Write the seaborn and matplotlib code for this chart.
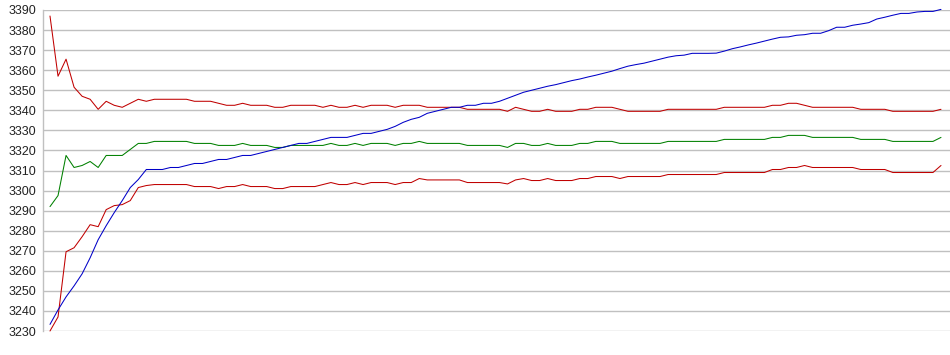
import numpy as np
import pandas as pd
import seaborn as sns
from matplotlib import pyplot as plt

# values, one per sample
upper = [3387, 3357, 3365.5, 3351.5, 3347, 3345.5, 3340.5, 3344.5, 3342.5, 3341.5,
         3343.5, 3345.5, 3344.5, 3345.5, 3345.5, 3345.5, 3345.5, 3345.5, 3344.5, 3344.5,
         3344.5, 3343.5, 3342.5, 3342.5, 3343.5, 3342.5, 3342.5, 3342.5, 3341.5, 3341.5,
         3342.5, 3342.5, 3342.5, 3342.5, 3341.5, 3342.5, 3341.5, 3341.5, 3342.5, 3341.5,
         3342.5, 3342.5, 3342.5, 3341.5, 3342.5, 3342.5, 3342.5, 3341.5, 3341.5, 3341.5,
         3341.5, 3341.5, 3340.5, 3340.5, 3340.5, 3340.5, 3340.5, 3339.5, 3341.5, 3340.5,
         3339.5, 3339.5, 3340.5, 3339.5, 3339.5, 3339.5, 3340.5, 3340.5, 3341.5, 3341.5,
         3341.5, 3340.5, 3339.5, 3339.5, 3339.5, 3339.5, 3339.5, 3340.5, 3340.5, 3340.5,
         3340.5, 3340.5, 3340.5, 3340.5, 3341.5, 3341.5, 3341.5, 3341.5, 3341.5, 3341.5,
         3342.5, 3342.5, 3343.5, 3343.5, 3342.5, 3341.5, 3341.5, 3341.5, 3341.5, 3341.5,
         3341.5, 3340.5, 3340.5, 3340.5, 3340.5, 3339.5, 3339.5, 3339.5, 3339.5, 3339.5,
         3339.5, 3340.5]

middle = [3292, 3297.5, 3317.5, 3311.5, 3312.5, 3314.5, 3311.5, 3317.5, 3317.5, 3317.5,
          3320.5, 3323.5, 3323.5, 3324.5, 3324.5, 3324.5, 3324.5, 3324.5, 3323.5, 3323.5,
          3323.5, 3322.5, 3322.5, 3322.5, 3323.5, 3322.5, 3322.5, 3322.5, 3321.5, 3321.5,
          3322.5, 3322.5, 3322.5, 3322.5, 3322.5, 3323.5, 3322.5, 3322.5, 3323.5, 3322.5,
          3323.5, 3323.5, 3323.5, 3322.5, 3323.5, 3323.5, 3324.5, 3323.5, 3323.5, 3323.5,
          3323.5, 3323.5, 3322.5, 3322.5, 3322.5, 3322.5, 3322.5, 3321.5, 3323.5, 3323.5,
          3322.5, 3322.5, 3323.5, 3322.5, 3322.5, 3322.5, 3323.5, 3323.5, 3324.5, 3324.5,
          3324.5, 3323.5, 3323.5, 3323.5, 3323.5, 3323.5, 3323.5, 3324.5, 3324.5, 3324.5,
          3324.5, 3324.5, 3324.5, 3324.5, 3325.5, 3325.5, 3325.5, 3325.5, 3325.5, 3325.5,
          3326.5, 3326.5, 3327.5, 3327.5, 3327.5, 3326.5, 3326.5, 3326.5, 3326.5, 3326.5,
          3326.5, 3325.5, 3325.5, 3325.5, 3325.5, 3324.5, 3324.5, 3324.5, 3324.5, 3324.5,
          3324.5, 3326.5]

lower = [3230, 3237, 3269.5, 3271.5, 3277, 3283, 3282, 3290.5, 3292.5, 3293,
         3295, 3301.5, 3302.5, 3303, 3303, 3303, 3303, 3303, 3302, 3302,
         3302, 3301, 3302, 3302, 3303, 3302, 3302, 3302, 3301, 3301,
         3302, 3302, 3302, 3302, 3303, 3304, 3303, 3303, 3304, 3303,
         3304, 3304, 3304, 3303, 3304, 3304, 3306, 3305.3, 3305.3, 3305.3,
         3305.3, 3305.3, 3304, 3304, 3304, 3304, 3304, 3303.3, 3305.3, 3306,
         3305, 3305, 3306, 3305, 3305, 3305, 3306, 3306, 3307, 3307,
         3307, 3306, 3307, 3307, 3307, 3307, 3307, 3308, 3308, 3308,
         3308, 3308, 3308, 3308, 3309, 3309, 3309, 3309, 3309, 3309,
         3310.5, 3310.5, 3311.5, 3311.5, 3312.5, 3311.5, 3311.5, 3311.5, 3311.5, 3311.5,
         3311.5, 3310.5, 3310.5, 3310.5, 3310.5, 3309, 3309, 3309, 3309, 3309,
         3309, 3312.5]

rising = [3233.3, 3240.5, 3247, 3252.5, 3258.5, 3266.5, 3275.5, 3282.5, 3289, 3295,
          3301.5, 3305.5, 3310.5, 3310.5, 3310.5, 3311.5, 3311.5, 3312.5, 3313.5, 3313.5,
          3314.5, 3315.5, 3315.5, 3316.5, 3317.5, 3317.5, 3318.5, 3319.5, 3320.5, 3321.5,
          3322.5, 3323.5, 3323.5, 3324.5, 3325.5, 3326.5, 3326.5, 3326.5, 3327.5, 3328.5,
          3328.5, 3329.5, 3330.5, 3332, 3334, 3335.5, 3336.5, 3338.5, 3339.5, 3340.5,
          3341.5, 3341.5, 3342.5, 3342.5, 3343.5, 3343.5, 3344.5, 3346, 3347.5, 3349,
          3350, 3351, 3352, 3352.8, 3353.8, 3354.8, 3355.6, 3356.6, 3357.5, 3358.5,
          3359.5, 3360.8, 3362, 3362.8, 3363.5, 3364.5, 3365.5, 3366.5, 3367.2, 3367.5,
          3368.4, 3368.4, 3368.4, 3368.5, 3369.5, 3370.7, 3371.6, 3372.6, 3373.5, 3374.5,
          3375.5, 3376.4, 3376.6, 3377.4, 3377.7, 3378.4, 3378.4, 3379.7, 3381.4, 3381.4,
          3382.4, 3383, 3383.7, 3385.5, 3386.4, 3387.4, 3388.3, 3388.3, 3389, 3389.3,
          3389.3, 3390.3]

y_ticks = list(range(3230, 3391, 10))

series = {'upper': upper, 'middle': middle, 'lower': lower, 'rising': rising}
colors = {'upper': '#C00000', 'middle': '#008000', 'lower': '#C00000', 'rising': '#0000C8'}

df = pd.concat(
    [pd.DataFrame({'i': np.arange(len(v)), 'value': v, 'series': k}) for k, v in series.items()],
    ignore_index=True,
)

sns.set_theme(style='white')
plt.rcParams['font.family'] = ['Liberation Sans', 'DejaVu Sans']

fig = plt.figure(figsize=(9.5, 3.55), dpi=100)
ax = fig.add_axes([43 / 950, 1 - 331 / 355, 1 - 43 / 950, 321 / 355])

sns.lineplot(data=df, x='i', y='value', hue='series', palette=colors,
             legend=False, ax=ax, estimator=None)
for line in ax.lines:
    line.set_linewidth(0.75)
    line.set_clip_on(False)

ax.set_ylim(3230, 3390)
ax.set_xlim(-7 / 8.03, 111 + 9 / 8.03)
ax.set_yticks(y_ticks)
ax.set_xticks([])
ax.set_xlabel('')
ax.set_ylabel('')
ax.grid(axis='y', color='#C0C0C0', linewidth=1.0)
ax.set_axisbelow(True)
for side in ('top', 'right', 'bottom'):
    ax.spines[side].set_visible(False)
ax.spines['left'].set_color('#C0C0C0')
ax.spines['left'].set_linewidth(1.0)
ax.tick_params(axis='y', length=0, pad=5, labelsize=9, labelcolor='#222222')

fig.savefig('out.png', dpi=100)
